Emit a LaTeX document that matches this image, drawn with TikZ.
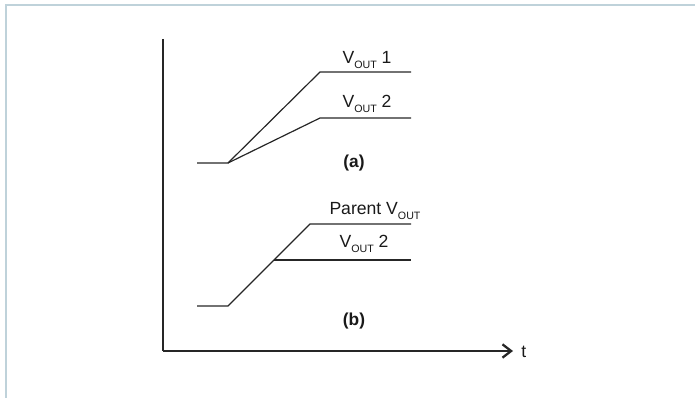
\documentclass[tikz,border=0pt]{standalone}
\usepackage{fontspec}
\setmainfont{Liberation Sans}
\usepackage{tikz}
\usetikzlibrary{arrows.meta}

\newcommand{\vsub}[1]{\raisebox{-3.7pt}{\fontsize{8}{8}\selectfont #1}}

\begin{document}
\begin{tikzpicture}[x=0.75pt, y=-0.75pt,
    frame/.style={draw=cyan!30!gray!45, line width=1.5pt},
    axis/.style={line width=1.7pt, black!85},
    trace/.style={line width=0.9pt, black!85},
    lbl/.style={font=\fontsize{13.2}{15}\selectfont, inner sep=0pt, anchor=base, text=black!90},
    tag/.style={lbl, font=\fontsize{13}{15}\selectfont\bfseries}
]
\useasboundingbox (0,0) rectangle (695,398);

% Frame
\draw[frame] (6,398) -- (6,5) -- (695,5);

% Axes
\coordinate (top)    at (163,39);
\coordinate (origin) at (163,351);
\coordinate (tip)    at (513,351);
\draw[axis] (top) -- (origin);
\draw[axis, -{Straight Barb[length=6.5pt, width=10pt]}] (origin) -- (tip);
\node[lbl, anchor=base west] (t) at (521,358) {t};

% (a) two outputs
\coordinate (a0)  at (197,163);
\coordinate (a1)  at (228,163);
\coordinate (a2)  at (320,72);
\coordinate (a3)  at (411,72);
\coordinate (a4)  at (320,118);
\coordinate (a5)  at (411,118);
\draw[trace] (a0) -- (a1) -- (a2) -- (a3);
\draw[trace] (a1) -- (a4) -- (a5);
\node[lbl] (vouta1) at (367,63.5) {V\vsub{OUT} 1};
\node[lbl] (vouta2) at (367,107.5) {V\vsub{OUT} 2};
\node[tag] (taga)   at (354,168) {(a)};

% (b) parent and child
\coordinate (b0)  at (197,306);
\coordinate (b1)  at (228,306);
\coordinate (b2)  at (310,224);
\coordinate (b3)  at (411,224);
\coordinate (b4)  at (274,260);
\coordinate (b5)  at (411,260);
\draw[trace] (b0) -- (b1) -- (b2) -- (b3);
\draw[trace] (b4) -- (b5);
\node[lbl] (parent) at (375,215) {Parent V\vsub{OUT}};
\node[lbl] (voutb2) at (364,248) {V\vsub{OUT} 2};
\node[tag] (tagb)   at (354,326) {(b)};

\end{tikzpicture}
\end{document}
